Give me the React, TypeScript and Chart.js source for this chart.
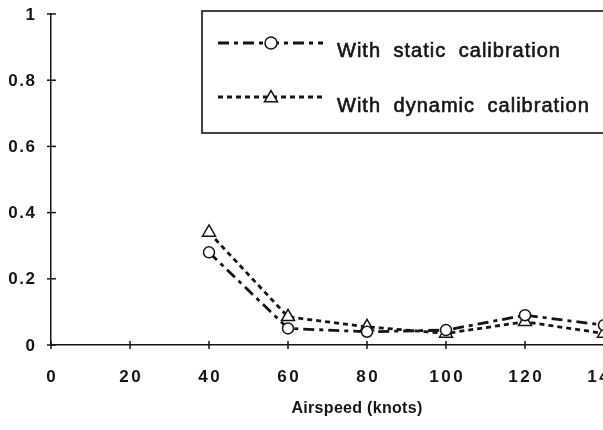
import { useEffect, useRef } from 'react';
import { Chart, registerables } from 'chart.js';

Chart.register(...registerables);

// Airspeed sweep and the error measured with each calibration method
const airspeed = [40, 60, 80, 100, 120, 140];
const staticCal = [0.28, 0.05, 0.04, 0.045, 0.09, 0.06];
const dynamicCal = [0.34, 0.085, 0.055, 0.035, 0.07, 0.035];

const xTickLabels = ['0', '20', '40', '60', '80', '100', '120', '140'];
const yTickLabels = ['0', '0.2', '0.4', '0.6', '0.8', '1'];
const seriesNames = ['With static calibration', 'With dynamic calibration'];
const xTitle = 'Airspeed (knots)';

const INK = '#151515';
const FONT = '"Liberation Sans", Arial, Helvetica, sans-serif';
const STATIC_DASH = [11, 5, 4, 5];
const DYNAMIC_DASH = [5, 4];
const LINE_W = 2.8;

const CANVAS_W = 640;
const CANVAS_H = 430;

function drawTriangle(ctx: CanvasRenderingContext2D, cx: number, cy: number, r: number) {
  ctx.beginPath();
  for (let k = 0; k < 3; k++) {
    const a = (k * 2 * Math.PI) / 3;
    const px = cx + Math.sin(a) * r;
    const py = cy - Math.cos(a) * r;
    if (k === 0) ctx.moveTo(px, py);
    else ctx.lineTo(px, py);
  }
  ctx.closePath();
  ctx.fillStyle = '#fff';
  ctx.fill();
  ctx.stroke();
}

// Crossing tick marks, tick labels, axis title and the boxed key
const decorations = {
  id: 'decorations',
  afterDraw(chart: any) {
    const { ctx, chartArea } = chart;
    const xs = chart.scales.x;
    const ys = chart.scales.y;
    ctx.save();
    ctx.strokeStyle = INK;
    ctx.fillStyle = INK;
    ctx.lineWidth = 1.5;
    ctx.setLineDash([]);

    // y ticks and labels
    ctx.font = `bold 17px ${FONT}`;
    (ctx as any).letterSpacing = '1.5px';
    ctx.textAlign = 'right';
    ctx.textBaseline = 'middle';
    for (const lbl of yTickLabels) {
      const py = ys.getPixelForValue(Number(lbl));
      ctx.beginPath();
      ctx.moveTo(chartArea.left - 4, py);
      ctx.lineTo(chartArea.left + 5, py);
      ctx.stroke();
      ctx.fillText(lbl, chartArea.left - 14.5, py + 1);
    }

    // x ticks and labels
    (ctx as any).letterSpacing = '2.5px';
    ctx.textAlign = 'center';
    for (const lbl of xTickLabels) {
      const px = xs.getPixelForValue(Number(lbl));
      ctx.beginPath();
      ctx.moveTo(px, chartArea.bottom - 4);
      ctx.lineTo(px, chartArea.bottom + 4);
      ctx.stroke();
      ctx.fillText(lbl, px + 1.25, 377);
    }

    // axis title
    (ctx as any).letterSpacing = '0.3px';
    ctx.font = `bold 16px ${FONT}`;
    ctx.fillText(xTitle, 357, 409);

    // key box
    ctx.lineWidth = 1.6;
    ctx.strokeRect(202, 11, 480, 122);

    const rows = [
      { y: 43, dash: STATIC_DASH, marker: 'circle', text: seriesNames[0], base: 57 },
      { y: 97, dash: DYNAMIC_DASH, marker: 'triangle', text: seriesNames[1], base: 112 },
    ];
    for (const row of rows) {
      ctx.lineWidth = LINE_W;
      ctx.setLineDash(row.dash);
      ctx.beginPath();
      ctx.moveTo(218, row.y);
      ctx.lineTo(323, row.y);
      ctx.stroke();
      ctx.setLineDash([]);
      ctx.lineWidth = 1.5;
      if (row.marker === 'circle') {
        ctx.beginPath();
        ctx.arc(271, row.y, 6, 0, Math.PI * 2);
        ctx.fillStyle = '#fff';
        ctx.fill();
        ctx.stroke();
      } else {
        drawTriangle(ctx, 271, row.y + 1, 7.5);
      }
      ctx.fillStyle = INK;
      ctx.font = `20px ${FONT}`;
      (ctx as any).letterSpacing = '1px';
      (ctx as any).wordSpacing = '6px';
      ctx.textAlign = 'left';
      ctx.textBaseline = 'alphabetic';
      ctx.fillText(row.text, 337, row.base);
      ctx.lineWidth = 0.6;
      ctx.strokeText(row.text, 337, row.base);
      (ctx as any).wordSpacing = '0px';
    }
    (ctx as any).letterSpacing = '0px';
    ctx.restore();
  },
};

export default function App() {
  const canvasRef = useRef<HTMLCanvasElement | null>(null);

  useEffect(() => {
    const canvas = canvasRef.current;
    if (!canvas) return;

    const chart = new Chart(canvas, {
      type: 'line',
      data: {
        datasets: [
          {
            label: seriesNames[0],
            data: airspeed.map((x, i) => ({ x, y: staticCal[i] })),
            borderColor: INK,
            borderWidth: LINE_W,
            borderDash: STATIC_DASH,
            tension: 0,
            pointStyle: 'circle',
            pointRadius: 5.5,
            pointBorderWidth: 1.5,
            pointBorderColor: INK,
            pointBackgroundColor: '#fff',
            clip: false as any,
          },
          {
            label: seriesNames[1],
            data: airspeed.map((x, i) => ({ x, y: dynamicCal[i] })),
            borderColor: INK,
            borderWidth: LINE_W,
            borderDash: DYNAMIC_DASH,
            tension: 0,
            pointStyle: 'triangle',
            pointRadius: 7.5,
            pointBorderWidth: 1.5,
            pointBorderColor: INK,
            pointBackgroundColor: '#fff',
            clip: false as any,
          },
        ],
      },
      options: {
        responsive: false,
        animation: false,
        devicePixelRatio: 1,
        layout: { padding: { left: 0, top: 14, right: CANVAS_W - 604, bottom: 0 } },
        plugins: {
          legend: { display: false },
          tooltip: { enabled: false },
        },
        scales: {
          x: {
            type: 'linear',
            min: 0,
            max: 140,
            ticks: { display: false, stepSize: 20 },
            grid: { display: false, drawTicks: false },
            border: { display: true, color: INK, width: 1.5 },
            afterFit: (s: any) => {
              s.height = 85;
            },
          },
          y: {
            type: 'linear',
            min: 0,
            max: 1,
            ticks: { display: false, stepSize: 0.2 },
            grid: { display: false, drawTicks: false },
            border: { display: true, color: INK, width: 1.5 },
            afterFit: (s: any) => {
              s.width = 51;
            },
          },
        },
      },
      plugins: [decorations],
    });

    return () => chart.destroy();
  }, []);

  return (
    <div
      style={{
        position: 'fixed',
        left: 0,
        top: 0,
        width: 603,
        height: 430,
        overflow: 'hidden',
        background: '#fff',
      }}
    >
      <canvas ref={canvasRef} width={CANVAS_W} height={CANVAS_H} style={{ display: 'block' }} />
    </div>
  );
}
